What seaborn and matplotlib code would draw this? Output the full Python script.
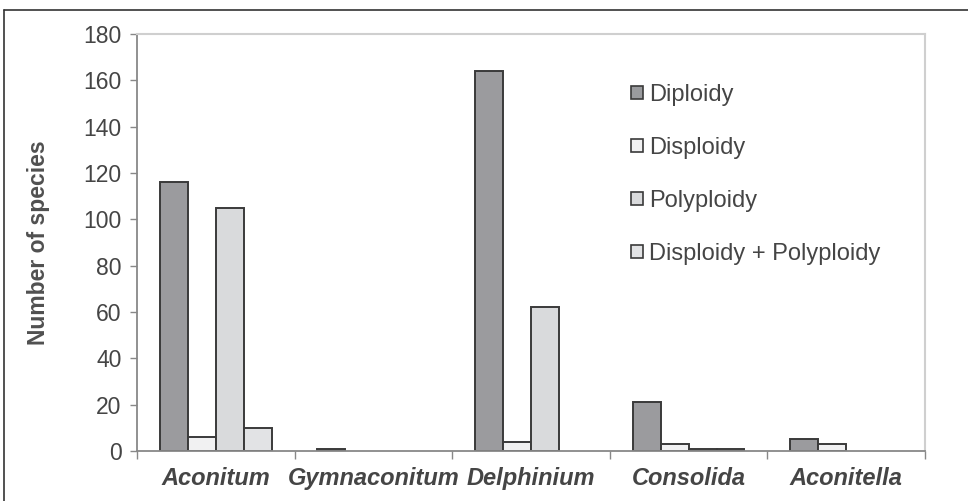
import matplotlib
matplotlib.use("Agg")
import matplotlib.pyplot as plt
from matplotlib.lines import Line2D
from matplotlib.patches import Patch
from matplotlib.ticker import FixedLocator, MultipleLocator
import pandas as pd
import seaborn as sns

genera = ["Aconitum", "Gymnaconitum", "Delphinium", "Consolida", "Aconitella"]
ploidy = ["Diploidy", "Disploidy", "Polyploidy", "Disploidy + Polyploidy"]
diploidy = [116, 1, 164, 21, 5]
disploidy = [6, 0, 4, 3, 3]
polyploidy = [105, 0, 62, 1, 0]
dis_poly = [10, 0, 0, 1, 0]
colors = ["#9a9b9e", "#f1f1f2", "#d9dadc", "#e2e3e5"]

rows = []
for name, vals in zip(ploidy, [diploidy, disploidy, polyploidy, dis_poly]):
    for g, v in zip(genera, vals):
        rows.append(dict(genus=g, ploidy=name, count=v))
df = pd.DataFrame(rows)

sns.set_style("white")
plt.rcParams["font.family"] = ["Liberation Sans", "DejaVu Sans"]
txt = "#454545"
edge = "#3a3a3a"

# figure
fig = plt.figure(figsize=(9.68, 5.01), dpi=100)
fig.patch.set_facecolor("white")
ax = fig.add_axes([0.1415, 0.0998, 0.814, 0.8323])

sns.barplot(
    data=df, x="genus", y="count", hue="ploidy",
    order=genera, hue_order=ploidy, palette=colors,
    width=0.71, edgecolor=edge, linewidth=1.4, ax=ax, legend=False)

# Excel-like: empty series draw nothing
for p in ax.patches:
    if p.get_height() == 0:
        p.set_visible(False)

# axis
ax.set_ylim(0, 180)
ax.set_xlim(-0.5, len(genera) - 0.5)
ax.yaxis.set_major_locator(MultipleLocator(20))
ax.set_xlabel("")
ax.set_ylabel("Number of species", fontsize=16.5, color="#505050",
              fontweight="bold", labelpad=24)
ax.tick_params(axis="y", left=True, direction="out", length=5, width=1,
               color="#888888", labelsize=16.5, labelcolor=txt, pad=6)
ax.tick_params(axis="x", which="major", bottom=False, pad=8)
ax.xaxis.set_minor_locator(FixedLocator([i - 0.5 for i in range(len(genera) + 1)]))
ax.tick_params(axis="x", which="minor", bottom=True, direction="out",
               length=6, width=1, color="#888888")
for lab in ax.get_xticklabels():
    lab.set_fontsize(17)
    lab.set_fontstyle("italic")
    lab.set_fontweight("bold")
    lab.set_color(txt)

for side in ["left", "bottom"]:
    ax.spines[side].set_color("#888888")
    ax.spines[side].set_linewidth(1.3)
for side in ["top", "right"]:
    ax.spines[side].set_visible(True)
    ax.spines[side].set_color("#cfcfcf")
    ax.spines[side].set_linewidth(1.5)

# legend
handles = [Patch(facecolor=c, edgecolor=edge, linewidth=1.2) for c in colors]
ax.legend(handles, ploidy, loc="upper left", bbox_to_anchor=(0.6, 0.932),
          frameon=False, fontsize=17, labelcolor=txt, handlelength=0.5,
          handleheight=0.5, handletextpad=0.25, labelspacing=1.32)

# outer frame
fig.add_artist(Line2D([4 / 968, 4 / 968], [0, 1 - 10 / 501],
                      transform=fig.transFigure, color="#333333", lw=1.2))
fig.add_artist(Line2D([4 / 968, 1], [1 - 10 / 501, 1 - 10 / 501],
                      transform=fig.transFigure, color="#333333", lw=1.2))

fig.savefig("out.png", dpi=100)
plt.close()
